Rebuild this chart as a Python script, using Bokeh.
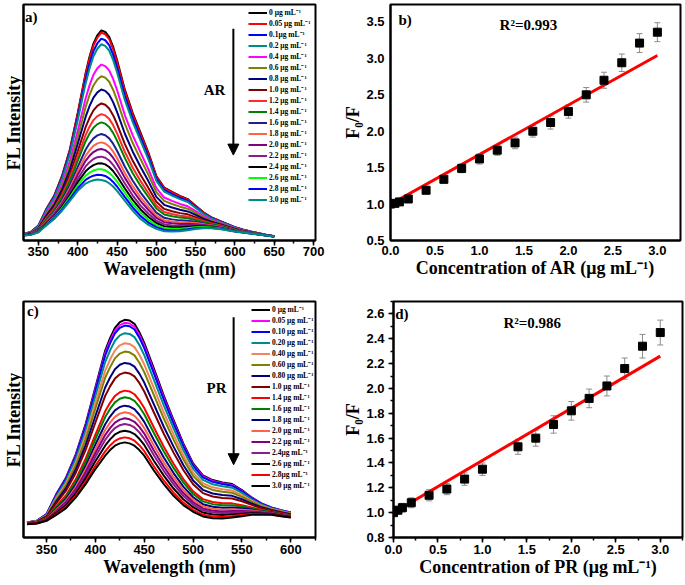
import numpy as np
from bokeh.plotting import figure
from bokeh.layouts import column, row
from bokeh.models import (Legend, LegendItem, Label, Arrow, NormalHead, Whisker,
                          TeeHead, ColumnDataSource, FixedTicker, SingleIntervalTicker,
                          NumeralTickFormatter, Range1d)
from bokeh.embed import file_html
from bokeh.resources import INLINE

SERIF = "Liberation Serif"
SANS = "Liberation Sans"

# ---------------- Panel a: FL spectra with AR ----------------
wl_a = [330, 340, 350, 360, 370, 380, 390, 400, 410, 415, 420, 425, 430, 435, 440, 445, 450,
        460, 470, 480, 490, 500, 510, 520, 530, 540, 550, 560, 570, 580, 590, 600,
        610, 620, 630, 640, 650]
top_a = [20, 25, 45, 95, 135, 195, 275, 385, 505, 555, 595, 620, 635, 630, 615, 585, 545,
         455, 385, 325, 265, 195, 160, 147, 135, 125, 105, 85, 70, 60, 50, 40,
         33, 27, 22, 17, 13]
bottom_a = [15, 17, 25, 45, 65, 90, 120, 150, 172, 178, 182, 184, 183, 180, 173, 163, 150,
            120, 90, 65, 47, 35, 28, 27, 28, 31, 35, 37, 37, 35, 31, 27,
            24, 21, 18, 15, 12]
peaks_a = [635, 628, 610, 593, 532, 497, 457, 415, 383, 358, 323, 298, 278, 255, 235, 217, 200, 185]
labels_a = ["0 μg mL⁻¹", "0.05 μg mL⁻¹", "0.1μg mL⁻¹", "0.2 μg mL⁻¹", "0.4 μg mL⁻¹",
            "0.6 μg mL⁻¹", "0.8 μg mL⁻¹", "1.0 μg mL⁻¹", "1.2 μg mL⁻¹", "1.4 μg mL⁻¹",
            "1.6 μg mL⁻¹", "1.8 μg mL⁻¹", "2.0 μg mL⁻¹", "2.2 μg mL⁻¹", "2.4 μg mL⁻¹",
            "2.6 μg mL⁻¹", "2.8 μg mL⁻¹", "3.0 μg mL⁻¹"]
colors_a = ["#000000", "#FF0000", "#0000FF", "#008B8B", "#FF00FF", "#808000", "#000080",
            "#800000", "#FF2A2A", "#008000", "#1F1F8F", "#FF6347", "#800080", "#8B1C8B",
            "#000000", "#00FF00", "#0000FF", "#008B8B"]

# ---------------- Panel b: F0/F vs AR ----------------
conc_b = [0, 0.05, 0.1, 0.2, 0.4, 0.6, 0.8, 1.0, 1.2, 1.4, 1.6, 1.8, 2.0, 2.2, 2.4, 2.6, 2.8, 3.0]
ratio_b = [1.0, 1.01, 1.03, 1.07, 1.19, 1.34, 1.49, 1.62, 1.74, 1.84, 2.0, 2.12, 2.27, 2.5,
           2.7, 2.94, 3.21, 3.36]
err_b = [0.03, 0.03, 0.04, 0.04, 0.05, 0.05, 0.06, 0.07, 0.07, 0.08, 0.08, 0.09, 0.09, 0.10,
         0.11, 0.12, 0.13, 0.13]
fit_b_intercept = 1.0
fit_b_slope = 0.68

# ---------------- Panel c: FL spectra with PR ----------------
wl_c = [330, 340, 350, 360, 370, 380, 390, 400, 410, 415, 420, 425, 430, 435, 440, 445, 450,
        460, 470, 480, 490, 500, 510, 520, 530, 540, 550, 560, 570, 580, 590, 600]
top_c = [45, 50, 70, 130, 180, 250, 340, 450, 560, 597, 628, 645, 652, 650, 640, 615, 583,
         505, 425, 352, 282, 222, 186, 172, 165, 160, 142, 120, 102, 90, 82, 75]
bottom_c = [40, 42, 50, 68, 88, 120, 160, 205, 245, 262, 275, 282, 285, 282, 275, 262, 245,
            200, 160, 125, 97, 77, 63, 58, 57, 60, 64, 68, 69, 68, 64, 60]
peaks_c = [652, 643, 635, 612, 582, 557, 523, 494, 440, 420, 395, 375, 357, 340, 320, 300, 285]
labels_c = ["0 μg mL⁻¹", "0.05 μg mL⁻¹", "0.10 μg mL⁻¹", "0.20 μg mL⁻¹", "0.40 μg mL⁻¹",
            "0.60 μg mL⁻¹", "0.80 μg mL⁻¹", "1.0 μg mL⁻¹", "1.4 μg mL⁻¹", "1.6 μg mL⁻¹",
            "1.8 μg mL⁻¹", "2.0 μg mL⁻¹", "2.2 μg mL⁻¹", "2.4μg mL⁻¹", "2.6 μg mL⁻¹",
            "2.8μg mL⁻¹", "3.0 μg mL⁻¹"]
colors_c = ["#000000", "#FF00FF", "#0000FF", "#008B8B", "#F4845F", "#808000", "#000080",
            "#800000", "#FF0000", "#008000", "#000080", "#FF6347", "#800080", "#8B1C8B",
            "#000000", "#FF0000", "#000000"]

# ---------------- Panel d: F0/F vs PR ----------------
conc_d = [0, 0.05, 0.1, 0.2, 0.4, 0.6, 0.8, 1.0, 1.4, 1.6, 1.8, 2.0, 2.2, 2.4, 2.6, 2.8, 3.0]
ratio_d = [1.0, 1.02, 1.04, 1.08, 1.14, 1.19, 1.27, 1.35, 1.53, 1.60, 1.71, 1.82, 1.92, 2.02,
           2.16, 2.34, 2.45]
err_d = [0.03, 0.03, 0.035, 0.04, 0.045, 0.045, 0.05, 0.05, 0.06, 0.065, 0.07, 0.075, 0.075,
         0.08, 0.085, 0.095, 0.10]
fit_d_intercept = 1.0
fit_d_slope = 0.42


def base_fig(w, h, xr, yr, borders):
    p = figure(width=w, height=h, x_range=Range1d(*xr), y_range=Range1d(*yr),
               output_backend="svg", toolbar_location=None,
               min_border_left=borders[0], min_border_right=borders[1],
               min_border_top=borders[2], min_border_bottom=borders[3])
    p.grid.visible = False
    p.outline_line_color = "black"
    p.outline_line_width = 2
    p.outline_line_alpha = 1
    p.background_fill_color = "white"
    p.border_fill_color = "white"
    for ax in (p.xaxis[0], p.yaxis[0]):
        ax.axis_line_width = 2
        ax.axis_line_color = "black"
        ax.major_label_text_font = SANS
        ax.major_label_text_font_style = "bold"
        ax.major_label_text_font_size = "13px"
        ax.major_label_text_color = "black"
        ax.axis_label_text_font = SERIF
        ax.axis_label_text_font_style = "bold"
        ax.axis_label_text_font_size = "18px"
        ax.axis_label_text_color = "black"
        ax.axis_label_standoff = 0
        ax.major_label_standoff = 2
        ax.major_tick_in = 0
        ax.major_tick_out = 5
        ax.minor_tick_in = 0
        ax.minor_tick_out = 3
        ax.major_tick_line_width = 1.5
        ax.minor_tick_line_width = 1.5
        ax.major_tick_line_color = "black"
        ax.minor_tick_line_color = "black"
    return p


def txt(p, x, y, s, size="15px", align="left"):
    p.add_layout(Label(x=x, y=y, text=s, text_font=SERIF, text_font_style="bold",
                       text_font_size=size, text_color="black", text_align=align,
                       text_baseline="middle"))


def spectra_panel(w, h, xr, yr, borders, wl, top, bottom, peaks, labels, colors,
                  legend_x, legend_top, xlabel_standoff):
    p = base_fig(w, h, xr, yr, borders)
    frame_h = h - borders[2] - borders[3]
    p.xaxis[0].ticker = SingleIntervalTicker(interval=50, num_minor_ticks=2)
    p.xaxis[0].major_label_standoff = xlabel_standoff
    p.yaxis[0].ticker = FixedTicker(ticks=[])
    p.yaxis[0].major_tick_out = 0
    p.yaxis[0].minor_tick_out = 0
    p.yaxis[0].major_label_standoff = 0
    p.xaxis[0].axis_label = "Wavelength (nm)"
    p.yaxis[0].axis_label = "FL Intensity"
    top = np.array(top, float)
    bottom = np.array(bottom, float)
    items = []
    for pk, lab, col in zip(peaks, labels, colors):
        t = (pk - peaks[-1]) / (peaks[0] - peaks[-1])
        ys = bottom + t * (top - bottom)
        r = p.line(wl, ys, line_color=col, line_width=2)
        items.append(LegendItem(label=lab, renderers=[r]))
    n = len(items)
    leg = Legend(items=items, location=(legend_x, frame_h - legend_top - n * 11),
                 label_text_font=SERIF, label_text_font_style="bold",
                 label_text_font_size="7.5px", label_text_color="black",
                 label_text_line_height=1.0,
                 label_height=11, glyph_height=11, glyph_width=19, spacing=0,
                 padding=0, margin=0, label_standoff=2,
                 background_fill_alpha=0, border_line_alpha=0)
    p.add_layout(leg)
    return p


# Panel a  (frame: x 21-315, y 4-242)
pa = spectra_panel(340, 290, (331, 702.5), (0, 713), (21, 25, 4, 48),
                   wl_a, top_a, bottom_a, peaks_a, labels_a, colors_a, 225, 4.5, 1)
txt(pa, 333, 674, "a)")
txt(pa, 574, 455, "AR", align="center")
pa.add_layout(Arrow(end=NormalHead(size=11, fill_color="black", line_color="black"),
                    x_start=598, y_start=640, x_end=598, y_end=258,
                    line_width=2, line_color="black"))

# Panel c  (frame: x 20-315, y 301-537)
pc = spectra_panel(340, 295, (326.4, 625.3), (0, 707), (20, 25, 11, 48),
                   wl_c, top_c, bottom_c, peaks_c, labels_c, colors_c, 228, 2.5, 2)
txt(pc, 330, 680, "c)")
txt(pc, 524, 448, "PR", align="center")
pc.add_layout(Arrow(end=NormalHead(size=11, fill_color="black", line_color="black"),
                    x_start=541.5, y_start=660, x_end=541.5, y_end=218,
                    line_width=2, line_color="black"))


def ratio_panel(w, h, xr, yr, borders, conc, ratio, err, b0, b1, yint, yminor, ticks_out, agent):
    p = base_fig(w, h, xr, yr, borders)
    p.xaxis[0].ticker = SingleIntervalTicker(interval=0.5, num_minor_ticks=2 if ticks_out else 0)
    p.yaxis[0].ticker = SingleIntervalTicker(interval=yint, num_minor_ticks=yminor)
    p.xaxis[0].formatter = NumeralTickFormatter(format="0.0")
    p.yaxis[0].formatter = NumeralTickFormatter(format="0.0")
    if ticks_out:
        p.yaxis[0].major_label_standoff = 4
    else:
        for ax in (p.xaxis[0], p.yaxis[0]):
            ax.major_tick_out = 0
            ax.minor_tick_out = 0
        p.xaxis[0].major_label_standoff = 5
        p.yaxis[0].major_label_standoff = 6
    p.xaxis[0].axis_label = "Concentration of %s (μg mL⁻¹)" % agent
    p.yaxis[0].axis_label = "F₀/F"
    src = ColumnDataSource(dict(x=conc, y=ratio,
                                upper=[r + e for r, e in zip(ratio, err)],
                                lower=[r - e for r, e in zip(ratio, err)]))
    p.add_layout(Whisker(source=src, base="x", upper="upper", lower="lower",
                         line_color="#8c8c8c", line_width=1,
                         upper_head=TeeHead(size=6, line_color="#8c8c8c", line_width=1),
                         lower_head=TeeHead(size=6, line_color="#8c8c8c", line_width=1)))
    xf = [min(conc), max(conc)]
    p.line(xf, [b0 + b1 * v for v in xf], line_color="#FF0000", line_width=3)
    p.scatter("x", "y", source=src, marker="square", size=8,
              fill_color="black", line_color="black")
    return p


# Panel b  (frame: x 385-680, y 3-240)
pb = ratio_panel(345, 290, (0, 3.26), (0.5, 3.74), (45, 5, 3, 50),
                 conc_b, ratio_b, err_b, fit_b_intercept, fit_b_slope, 0.5, 0, False, "AR")
txt(pb, 0.09, 3.53, "b)")
txt(pb, 1.55, 3.46, "R²=0.993", align="center")

# Panel d  (frame: x 388-682, y 300-538)
pd_ = ratio_panel(345, 295, (0, 3.25), (0.8, 2.7), (48, 3, 10, 47),
                  conc_d, ratio_d, err_d, fit_d_intercept, fit_d_slope, 0.2, 2, True, "PR")
txt(pd_, 0.02, 2.6, "d)")
txt(pd_, 1.56, 2.53, "R²=0.986", align="center")

layout = column(row(pa, pb), row(pc, pd_))
open("out.html", "w").write(file_html(layout, INLINE))
